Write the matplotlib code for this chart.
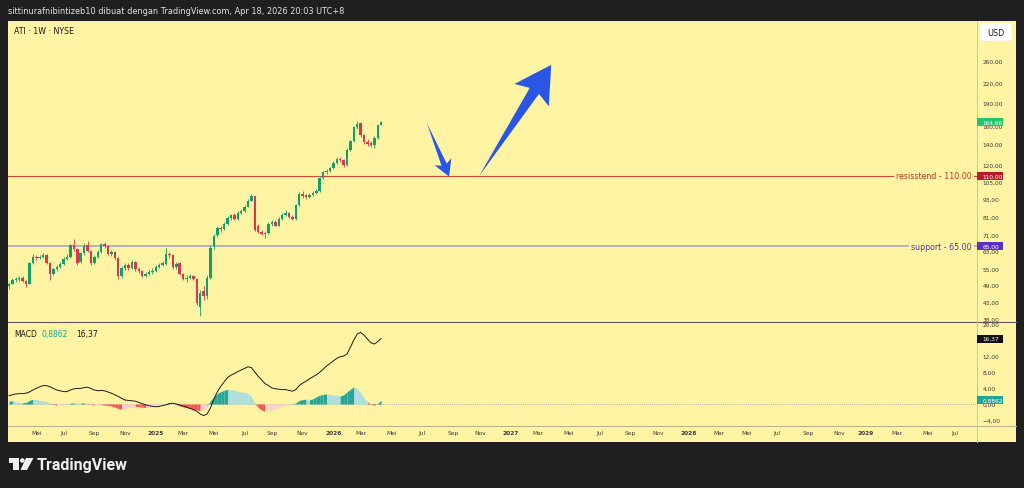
import numpy as np
import pandas as pd
import matplotlib
matplotlib.use("Agg")
import matplotlib.pyplot as plt
import matplotlib.ticker as mticker
from matplotlib.patches import Rectangle, Polygon, Circle, FancyBboxPatch
from matplotlib.lines import Line2D
from matplotlib.transforms import IdentityTransform, blended_transform_factory

# ==== data (ATI weekly, NYSE) ====
start_week = "2024-03-11"

opens = [48.5, 49.3, 50.6, 50.9, 51.4, 50.2, 49.2, 57.5, 60.2, 59.5,
         60.3, 61.0, 57.6, 53.0, 54.8, 55.8, 57.0, 59.2, 60.0, 65.5,
         64.0, 58.0, 61.8, 65.5, 63.0, 57.5, 60.0, 62.5, 66.0, 65.2,
         61.5, 62.5, 59.5, 52.0, 55.5, 56.8, 55.2, 57.8, 54.8, 54.0,
         52.3, 53.0, 53.8, 54.3, 55.8, 56.6, 57.0, 61.5, 61.0, 55.8,
         57.5, 53.0, 51.0, 51.5, 52.0, 51.0, 41.5, 46.5, 44.8, 51.5,
         65.0, 71.0, 74.5, 74.0, 77.0, 80.5, 82.5, 80.0, 83.5, 85.0,
         87.5, 91.5, 94.5, 75.5, 72.5, 71.5, 72.0, 77.0, 78.0, 76.0,
         80.0, 82.5, 83.5, 81.0, 80.0, 88.5, 96.5, 95.5, 94.0, 95.5,
         97.0, 98.0, 108.5, 113.0, 114.5, 116.5, 121.5, 124.5, 124.0, 119.0,
         134.0, 142.5, 158.0, 163.0, 149.0, 141.5, 141.0, 138.5, 146.0, 161.5]
highs = [49.8, 51.3, 51.8, 52.2, 52.0, 50.8, 58.0, 61.5, 61.0, 61.2,
         62.0, 61.5, 58.0, 55.5, 56.5, 57.8, 60.0, 61.5, 66.0, 68.5,
         64.5, 62.5, 66.5, 67.5, 63.5, 61.0, 63.5, 66.8, 67.2, 65.8,
         63.5, 63.0, 60.0, 56.0, 57.5, 57.5, 58.8, 58.5, 55.8, 54.5,
         53.8, 54.5, 55.5, 56.5, 57.5, 58.5, 64.5, 62.5, 61.5, 57.8,
         58.0, 53.5, 52.5, 52.8, 52.5, 51.5, 47.0, 48.5, 52.5, 65.5,
         71.5, 76.0, 76.0, 78.0, 81.5, 83.0, 83.5, 84.5, 86.0, 88.5,
         92.5, 96.5, 95.0, 77.0, 73.5, 73.0, 78.0, 79.0, 79.0, 81.0,
         83.5, 85.5, 84.0, 82.0, 89.5, 97.5, 98.0, 96.5, 97.0, 98.5,
         99.5, 109.5, 114.0, 116.0, 117.5, 123.0, 127.0, 126.5, 125.0, 135.5,
         144.0, 160.0, 166.0, 165.0, 151.0, 145.0, 143.0, 148.0, 162.5, 166.0]
lows = [47.5, 49.0, 50.0, 50.2, 49.8, 48.0, 49.0, 57.0, 58.8, 59.0,
        59.6, 57.0, 50.5, 52.5, 54.0, 55.2, 56.5, 58.8, 59.5, 63.0,
        56.5, 57.5, 61.0, 62.5, 56.5, 57.0, 59.5, 62.0, 64.5, 60.8,
        60.5, 58.8, 51.0, 51.5, 54.5, 54.5, 55.0, 54.2, 53.5, 51.8,
        51.8, 52.5, 53.0, 53.8, 55.2, 56.0, 56.5, 59.8, 55.0, 55.0,
        52.5, 50.5, 50.0, 51.0, 50.5, 42.0, 38.7, 43.5, 44.0, 51.0,
        64.0, 70.0, 72.5, 73.5, 76.5, 79.5, 79.0, 79.5, 83.0, 84.0,
        87.0, 91.0, 73.0, 72.0, 70.8, 69.0, 71.5, 76.0, 75.5, 75.5,
        79.5, 81.5, 80.5, 79.0, 79.5, 88.0, 93.5, 92.5, 93.0, 94.5,
        96.0, 97.5, 107.5, 112.0, 113.5, 116.0, 120.5, 122.0, 117.5, 118.5,
        133.0, 141.5, 156.0, 147.5, 140.0, 138.0, 136.5, 135.5, 145.5, 160.5]
closes = [49.3, 50.6, 50.9, 51.4, 50.2, 49.2, 57.5, 60.2, 59.5, 60.3,
          60.8, 57.6, 53.0, 54.8, 55.8, 57.0, 59.2, 60.3, 65.5, 64.0,
          57.5, 61.8, 65.0, 63.0, 57.5, 60.0, 62.5, 66.0, 65.2, 61.5,
          62.5, 59.5, 52.0, 55.5, 56.8, 55.2, 57.8, 54.8, 54.0, 52.3,
          53.0, 53.8, 54.3, 55.8, 56.6, 57.4, 61.5, 61.0, 55.8, 57.0,
          53.0, 51.0, 51.5, 52.0, 51.0, 42.5, 46.0, 44.8, 51.5, 64.5,
          70.5, 74.5, 74.0, 77.0, 80.5, 82.0, 80.0, 83.5, 85.0, 87.5,
          91.5, 94.5, 73.5, 72.5, 71.5, 72.0, 77.0, 77.8, 76.0, 80.0,
          82.5, 83.5, 81.0, 80.0, 88.5, 96.5, 95.0, 94.0, 95.5, 97.0,
          98.0, 108.5, 113.0, 114.5, 116.5, 121.5, 124.5, 124.0, 119.0, 134.0,
          142.5, 158.0, 162.5, 149.0, 141.5, 139.5, 138.5, 146.0, 161.0, 164.66]

macd_line = [2.1, 2.3, 2.5, 2.6, 2.6, 2.7, 3.0, 3.5, 3.9, 4.3,
             4.6, 4.6, 4.3, 3.9, 3.5, 3.3, 3.1, 3.1, 3.5, 3.8,
             3.9, 3.9, 4.1, 4.2, 3.9, 3.5, 3.3, 3.4, 3.3, 3.0,
             2.7, 2.3, 1.9, 1.4, 1.0, 0.9, 0.8, 0.7, 0.4, 0.1,
             -0.2, -0.4, -0.6, -0.7, -0.6, -0.4, -0.2, 0.1, 0.2, 0.0,
             -0.25, -0.5, -0.8, -1.1, -1.4, -1.8, -2.5, -2.9, -2.5, -1.0,
             1.2, 3.0, 4.4, 5.5, 6.6, 7.2, 7.6, 8.1, 8.5, 8.9,
             9.3, 9.1, 8.0, 6.9, 6.0, 5.1, 4.6, 4.0, 3.8, 3.7,
             3.6, 3.6, 3.4, 3.2, 3.6, 4.6, 5.2, 5.7, 6.3, 6.8,
             7.3, 7.9, 8.7, 9.5, 10.1, 10.8, 11.4, 11.8, 12.0, 12.5,
             14.2, 16.0, 17.5, 17.9, 17.2, 16.2, 15.3, 15.0, 15.6, 16.37]
macd_hist = [0.7, 0.8, 0.6, 0.4, 0.3, 0.4, 0.9, 1.2, 1.1, 0.9,
             0.8, 0.6, 0.2, -0.1, -0.3, -0.3, -0.25, -0.1, 0.2, 0.3,
             0.25, 0.2, 0.35, 0.2, -0.1, -0.3, -0.3, -0.2, -0.25, -0.4,
             -0.5, -0.8, -1.1, -1.3, -1.2, -1.0, -0.8, -0.6, -0.65, -0.8,
             -0.9, -0.85, -0.7, -0.5, -0.3, -0.1, 0.1, 0.2, 0.1, -0.2,
             -0.5, -0.7, -0.9, -1.1, -1.3, -1.5, -1.6, -1.4, -0.5, 0.8,
             1.8, 2.6, 3.1, 3.4, 3.7, 3.6, 3.4, 3.2, 3.0, 2.9,
             2.7, 1.8, 0.2, -0.9, -1.5, -1.8, -1.8, -1.6, -1.2, -0.9,
             -0.6, -0.4, -0.3, -0.2, 0.3, 0.9, 1.1, 1.2, 1.0, 1.3,
             1.8, 2.2, 2.4, 2.5, 2.4, 2.3, 2.2, 2.0, 2.3, 3.0,
             3.7, 4.3, 3.9, 2.8, 1.5, 0.5, -0.1, -0.3, 0.2, 0.8862]

resistance = 110.0
support = 65.0

price_ticks = [260, 220, 190, 160, 140, 120, 105, 93, 81, 71, 63, 55, 49, 43, 38]
macd_ticks = [20, 16, 12, 8, 4, 0, -4]
tick_labels = ["Mei", "Jul", "Sep", "Nov", "2025", "Mar", "Mei", "Jul", "Sep", "Nov",
               "2026", "Mar", "Mei", "Jul", "Sep", "Nov", "2027", "Mar", "Mei", "Jul",
               "Sep", "Nov", "2028", "Mar", "Mei", "Jul", "Sep", "Nov", "2029", "Mar",
               "Mei", "Jul"]
tick_months = pd.date_range("2024-05-01", periods=len(tick_labels), freq="2MS")

# drawn arrows: (week index, price)
arrow_starts = [(122.4, 163.0), (137.7, 110.0)]
arrow_ends = [(128.9, 109.5), (158.8, 252.0)]

# ==== style ====
W, H = 1024, 489
BG = "#1f1f1f"
PANEL = "#fef4a3"
UP = "#12a06a"
DOWN = "#e0344d"
ARROW = "#2a56e6"


def fx(px):
    return px / W


def fy(py):
    return 1 - py / H


fig = plt.figure(figsize=(W / 100, H / 100), dpi=100, facecolor=BG)
fig.patches.append(Rectangle((fx(8), fy(443)), fx(1008), (443 - 22) / H,
                             transform=fig.transFigure, fc=PANEL, ec="none", zorder=-1))

ax = fig.add_axes([fx(8), fy(323), fx(969), 301 / H])
ax2 = fig.add_axes([fx(8), fy(427), fx(969), 104 / H])
for a in (ax, ax2):
    a.set_facecolor("none")
    for s in a.spines.values():
        s.set_visible(False)
    a.set_xlim(-0.29, 283.5)

x = np.arange(len(closes))
o = np.array(opens)
c = np.array(closes)
cols = [UP if cc >= oo else DOWN for oo, cc in zip(o, c)]

# ==== price pane ====
ax.set_yscale("log")
ax.set_ylim(37.0, 349.7)
ax.vlines(x, lows, highs, colors=cols, lw=0.6, zorder=2)
ax.bar(x, np.maximum(np.abs(c - o), 0.25), bottom=np.minimum(o, c), width=0.72,
       color=cols, zorder=3)

ax.axhline(resistance, color="#d04a3c", lw=0.8, zorder=1)
ax.axhline(support, color="#aaa5c4", lw=1.2, zorder=1)
bt = blended_transform_factory(ax.transAxes, ax.transData)
ax.text(0.9948, resistance, "resisstend - 110.00", transform=bt, ha="right", va="center",
        fontsize=5.7, color="#c0392b",
        bbox=dict(boxstyle="square,pad=0.3", fc=PANEL, ec="none"))
ax.text(0.9948, support, "support - 65.00", transform=bt, ha="right", va="center",
        fontsize=5.7, color="#5e35b1",
        bbox=dict(boxstyle="square,pad=0.3", fc=PANEL, ec="none"))

ax.set_xticks([])
ax.yaxis.tick_right()
ax.yaxis.set_minor_locator(mticker.NullLocator())
ax.set_yticks(price_ticks)
ax.set_yticklabels([f"{v:.2f}".replace(".", ",") for v in price_ticks])
ax.tick_params(axis="y", which="both", length=0, pad=4, labelsize=4.2, labelcolor="#3c3c3c")

# ==== MACD pane ====
ax2.set_ylim(-5.5, 20.5)
hist = np.array(macd_hist)
hcols = []
for i, h in enumerate(hist):
    prev = hist[i - 1] if i > 0 else h
    if h >= 0:
        hcols.append("#26a69a" if h >= prev else "#acdde0")
    else:
        hcols.append("#ffcdd2" if h >= prev else "#ff5252")
for i in range(1, len(hist)):
    ax2.fill_between([i - 1, i], [hist[i - 1], hist[i]], 0, color=hcols[i], lw=0, zorder=1)
ax2.axhline(0, color="#9e9e9e", lw=0.6, ls=(0, (1, 1.5)), zorder=0)
ax2.plot(x, macd_line, color="#1c1c1c", lw=0.7, zorder=3)

ax2.yaxis.tick_right()
ax2.set_yticks(macd_ticks)
ax2.set_yticklabels([f"{v:.2f}".replace(".", ",").replace("-", "\u2212") for v in macd_ticks])
ax2.tick_params(axis="y", length=0, pad=4, labelsize=4.2, labelcolor="#3c3c3c")

start = pd.Timestamp(start_week)
tick_pos = []
for d in tick_months:
    first_monday = d + pd.Timedelta(days=(7 - d.weekday()) % 7)
    tick_pos.append((first_monday - start).days / 7)
ax2.set_xticks(tick_pos)
ax2.set_xticklabels(tick_labels)
ax2.tick_params(axis="x", length=0, pad=3, labelsize=4.2, labelcolor="#3c3c3c")
for lab in ax2.get_xticklabels():
    if lab.get_text().isdigit():
        lab.set_fontweight("bold")


# ==== tags on the price scale ====
def scale_tag(a, value, text, fc, tc="white"):
    y = a.transData.transform((0, value))[1]
    fig.patches.append(Rectangle((977, y - 4), 26, 8, transform=IdentityTransform(),
                                 fc=fc, ec="none", zorder=5))
    fig.text(fx(982.5), y / H, text, ha="left", va="center", fontsize=4.2, color=tc, zorder=6)


scale_tag(ax, closes[-1], "164,66", "#22c36e")
scale_tag(ax, resistance, "110,00", "#b71c2c")
scale_tag(ax, support, "65,00", "#5b2fc4")
scale_tag(ax2, macd_line[-1], "16,37", "#111111")
scale_tag(ax2, macd_hist[-1], "0,8862", "#1fa594")


# ==== arrows drawn on the chart ====
def tapered_arrow(a, p_from, p_to, head_len, head_half, shaft_half, notch):
    p0 = a.transData.transform(p_from)
    p1 = a.transData.transform(p_to)
    d = p1 - p0
    u = d / np.hypot(*d)
    n = np.array([-u[1], u[0]])
    base = p1 - u * head_len
    join = base + u * notch
    pts = [p0, join + n * shaft_half, base + n * head_half, p1,
           base - n * head_half, join - n * shaft_half]
    fig.patches.append(Polygon(pts, closed=True, transform=IdentityTransform(),
                               fc=ARROW, ec="none", zorder=2))


tapered_arrow(ax, arrow_starts[0], arrow_ends[0], 16, 9, 2.8, 3)
tapered_arrow(ax, arrow_starts[1], arrow_ends[1], 36, 20.5, 5.5, 5)

# ==== frame lines ====
fig.add_artist(Line2D([fx(8), fx(1016)], [fy(323), fy(323)], transform=fig.transFigure,
                      color="#5a5a5a", lw=0.8, zorder=4))
fig.add_artist(Line2D([fx(8), fx(1016)], [fy(427), fy(427)], transform=fig.transFigure,
                      color="#b8b07e", lw=0.7, zorder=4))
fig.add_artist(Line2D([fx(977), fx(977)], [fy(22), fy(443)], transform=fig.transFigure,
                      color="#cfc790", lw=0.7, zorder=4))

# ==== texts ====
fig.text(fx(8), fy(11), "sittinurafnibintizeb10 dibuat dengan TradingView.com, Apr 18, 2026 20:03 UTC+8",
         fontsize=5.9, color="#e4e4e4", va="center", ha="left")
fig.text(fx(14), fy(32), "ATI \u00b7 1W \u00b7 NYSE", fontsize=5.7, color="#1a1a1a", va="center")
fig.text(fx(14), fy(335), "MACD", fontsize=5.5, color="#1a1a1a", va="center")
fig.text(fx(42), fy(335), "0,8862", fontsize=5.5, color="#1fa594", va="center")
fig.text(fx(76), fy(335), "16,37", fontsize=5.5, color="#1a1a1a", va="center")

fig.patches.append(FancyBboxPatch((980, H - 42), 32, 18, boxstyle="round,pad=0,rounding_size=2.5",
                                  transform=IdentityTransform(), fc="white", ec="none", zorder=5))
fig.text(fx(996), fy(33), "USD", fontsize=5.8, color="#131722", ha="center", va="center", zorder=6)

# TradingView logo
logo = "#f0f0f0"
fig.patches.append(Polygon([(8.5, H - 459), (19, H - 459), (19, H - 471), (13, H - 471),
                            (13, H - 463.5), (8.5, H - 463.5)], closed=True,
                           transform=IdentityTransform(), fc=logo, ec="none"))
fig.patches.append(Circle((22.3, H - 461.5), 2.3, transform=IdentityTransform(), fc=logo, ec="none"))
fig.patches.append(Polygon([(26, H - 459), (33.5, H - 459), (27, H - 471), (20.5, H - 471)],
                           closed=True, transform=IdentityTransform(), fc=logo, ec="none"))
fig.text(fx(37), fy(466), "TradingView", fontsize=11.5, fontweight="bold", family="Roboto",
         color=logo, va="center", ha="left")

fig.savefig("out.png", dpi=100, facecolor=BG)
